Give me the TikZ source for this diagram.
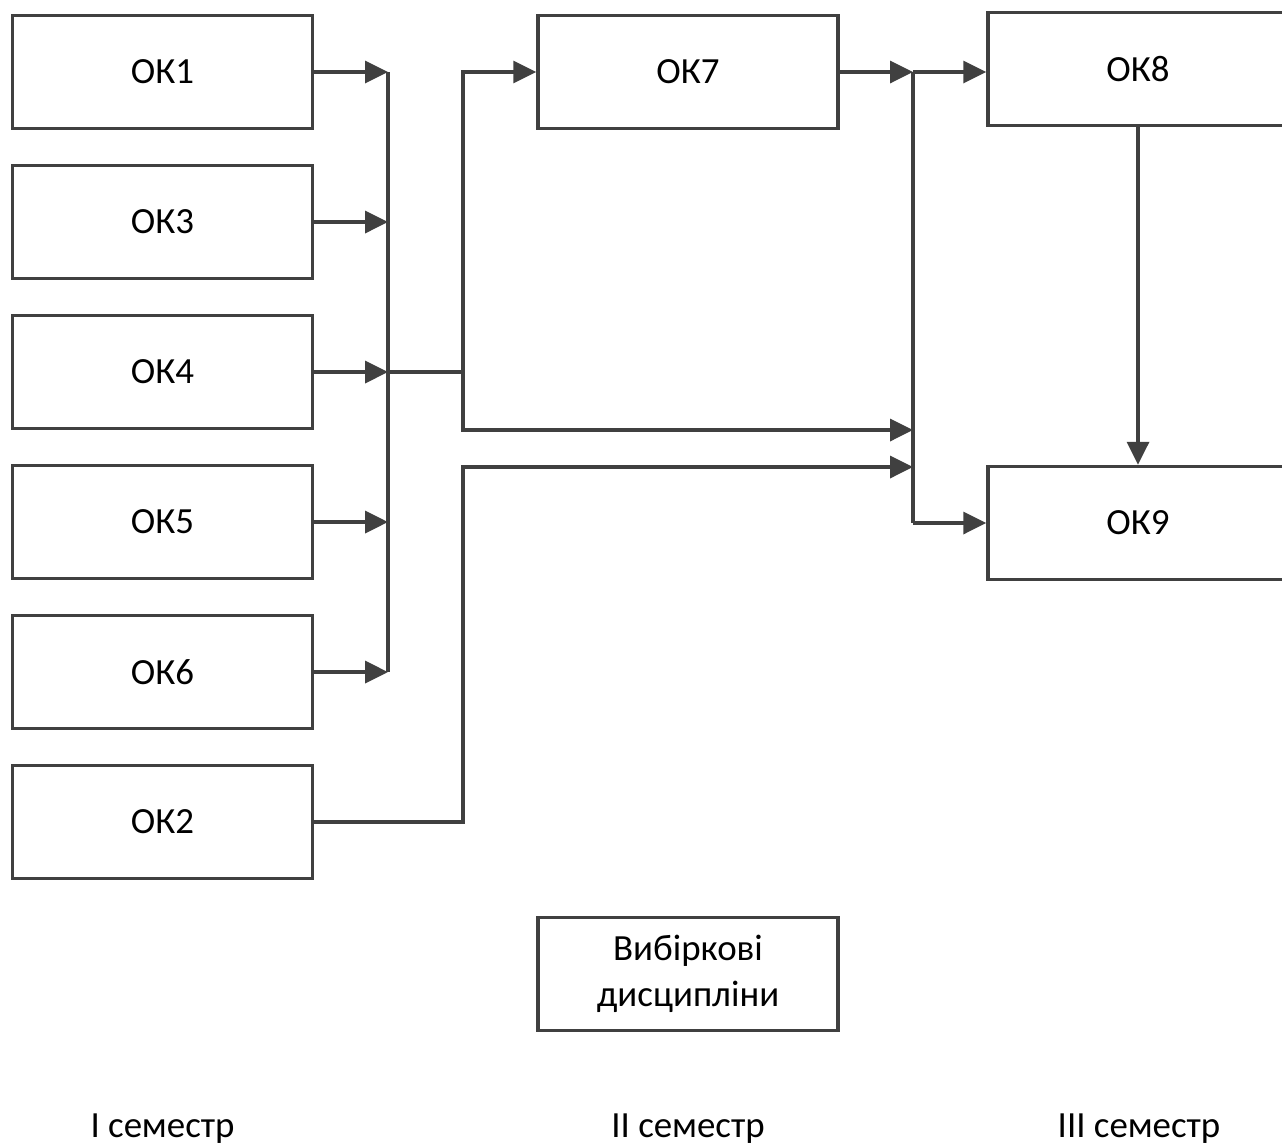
\documentclass[tikz,border=0pt]{standalone}
\usepackage{fontspec}
\setmainfont{Carlito}
\usepackage{tikz}
\usetikzlibrary{chains,positioning,arrows.meta}
\definecolor{mygray}{RGB}{64,64,64}

\begin{document}
\begin{tikzpicture}[line width=2pt,draw=mygray,
	every node/.style={font=\fontsize{21}{26}\selectfont},
	okbox/.style={draw=mygray,rectangle,minimum width=6cm,minimum height=2.26cm,align=center},
	arr/.style={-{Triangle[length=0.46cm,width=0.44cm]}},
	]
	
	\clip (0,0) rectangle (25.64,-22.94);
	
	% the first semester
	\begin{scope}[xshift=3.25cm,yshift=-1.44cm,start chain=going below,node distance=0.67cm]
	\foreach \i in {1,3,4,5,6,2}
	\node[okbox,on chain] (ok\i) {ОК\i};
	\end{scope}
	
	% the second semester
	\node[okbox] (ok7) at (13.76,-1.44) {ОК7};
	\node[okbox] (vib) at (13.76,-19.48) {Вибіркові\\дисципліни};
	
	% the third semester
	\node[okbox] (ok8) at (22.76,-1.38) {ОК8};
	\node[okbox] (ok9) at (22.76,-10.46) {ОК9};
	
	% the semesters
	\node (sem1) at (3.25,-22.58) {I семестр};
	\node (sem2) at (13.76,-22.58) {II семестр};
	\node (sem3) at (22.78,-22.58) {III семестр};
	
	% the buses
	\coordinate (bl) at (7.76,0);
	\coordinate (bm) at (9.26,0);
	\coordinate (br) at (18.26,0);
	\coordinate (ja) at (0,-8.6);
	\coordinate (jb) at (0,-9.34);
	
	% the edges
	\foreach \i in {1,3,4,5,6}
	\draw[arr] (ok\i) -- (bl |- ok\i);
	\draw (bl |- ok1) -- (bl |- ok6);
	\draw (bl |- ok4) -- (bm |- ok4);
	\draw[arr] (bm |- ok4) |- (ok7);
	\draw[arr] (bm |- ok4) |- (br |- ja);
	\draw[arr] (ok2) -| (bm |- jb) -- (br |- jb);
	\draw[arr] (ok7) -- (br |- ok7);
	\draw (br |- ok7) -- (br |- ok9);
	\draw[arr] (br |- ok7) -- (ok8.west |- ok7);
	\draw[arr] (br |- ok9) -- (ok9);
	\draw[arr] (ok8) -- (ok9);
\end{tikzpicture}
\end{document}
